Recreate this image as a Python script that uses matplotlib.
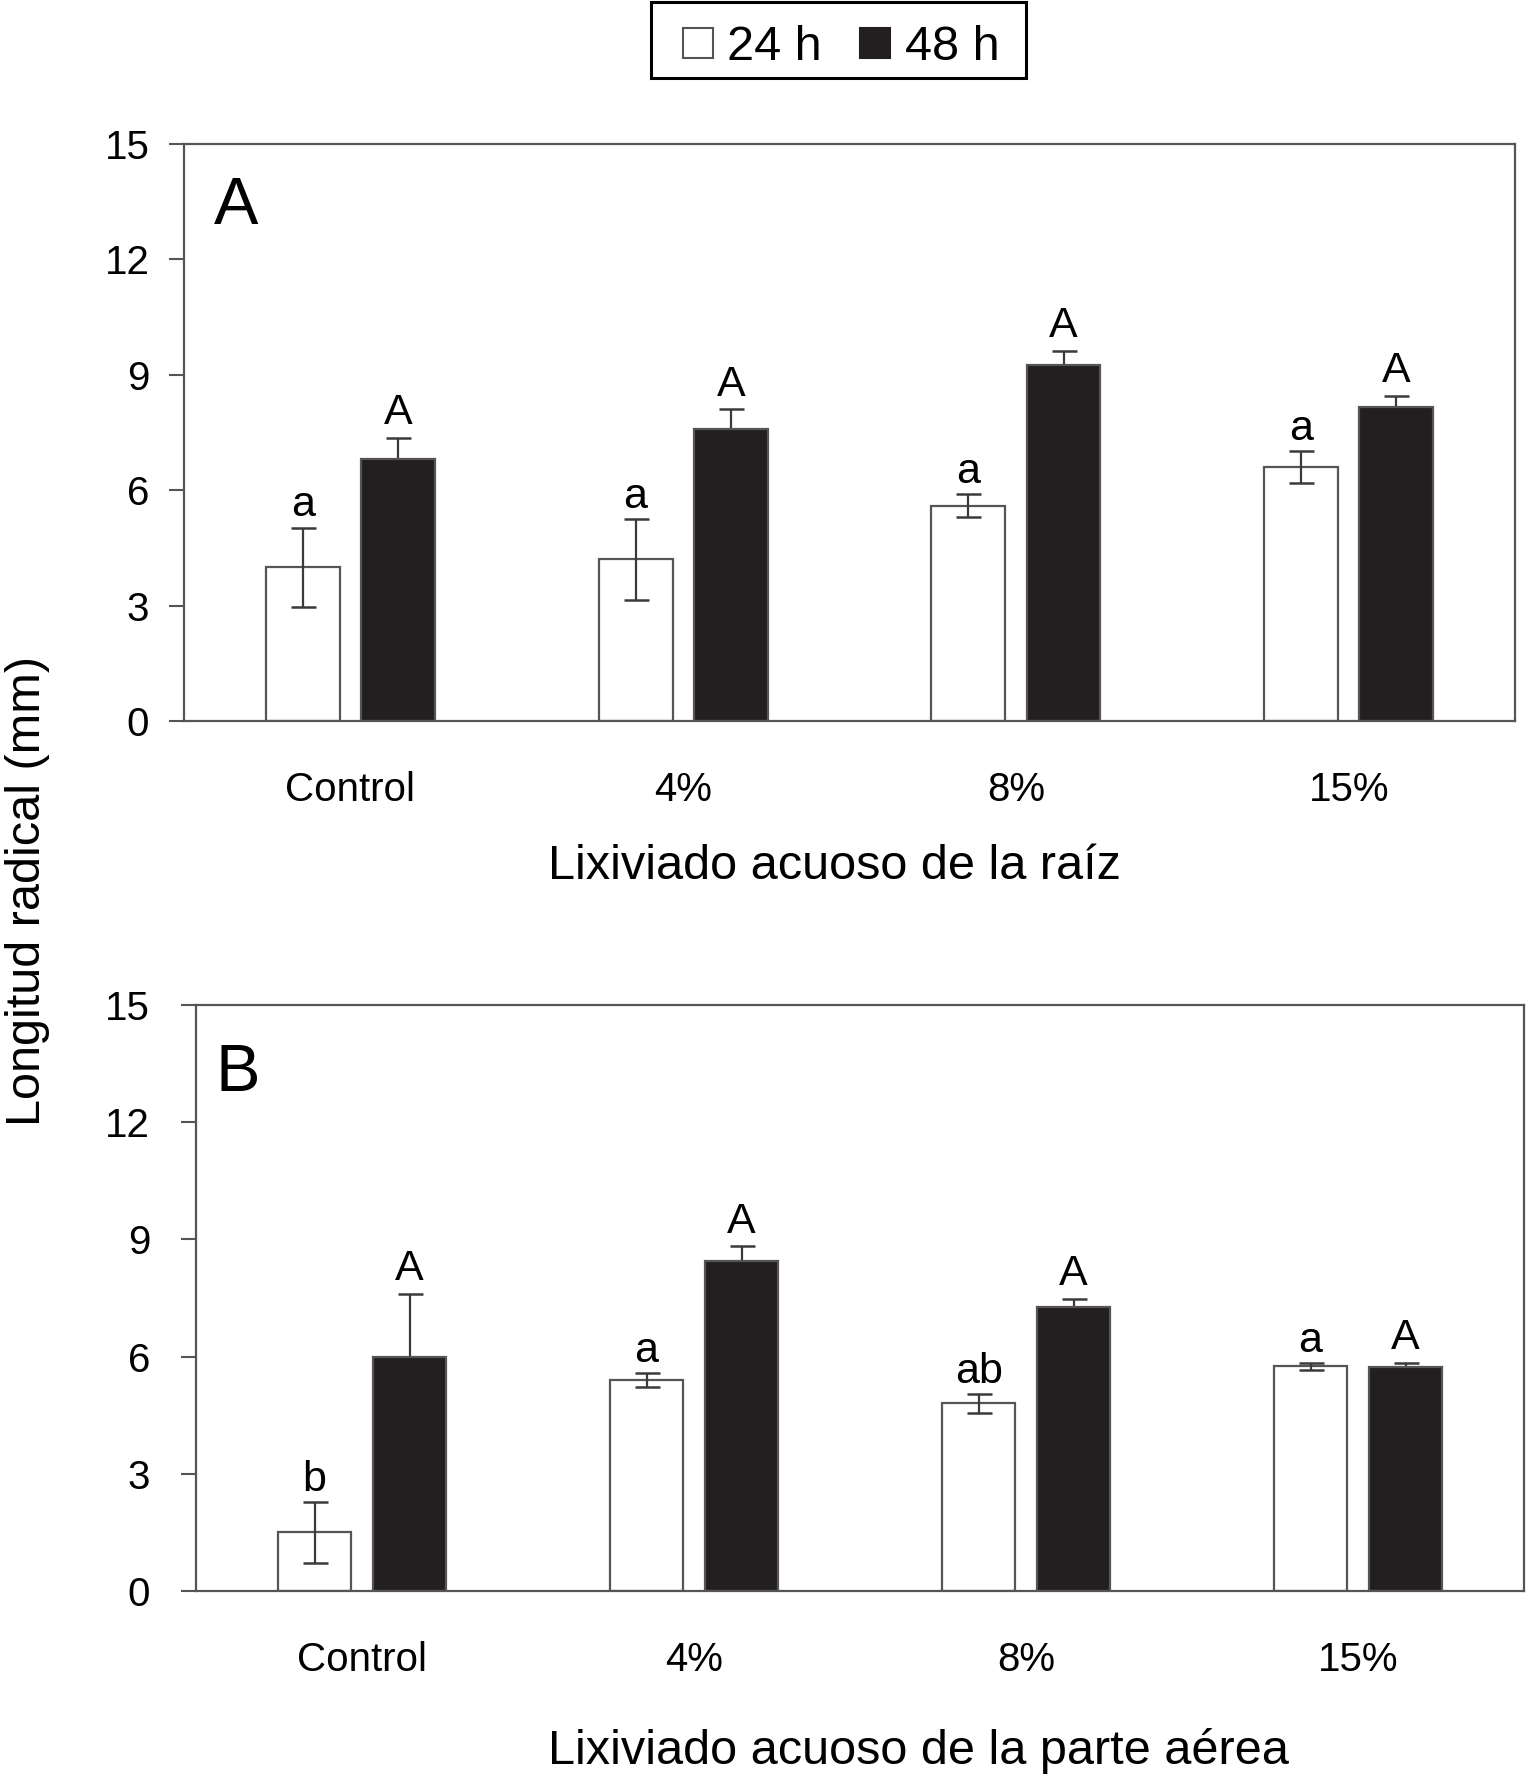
import numpy as np
import matplotlib
matplotlib.use("Agg")
import matplotlib.pyplot as plt
from matplotlib.lines import Line2D
from matplotlib.patches import Rectangle

plt.rcParams['font.family'] = ['Liberation Sans', 'DejaVu Sans']

# data
categories = ['Control', '4%', '8%', '15%']
series_names = ['24 h', '48 h']

# panel A - root leachate
a_24 = [4.0, 4.2, 5.6, 6.6]
a_24_err = [1.03, 1.05, 0.3, 0.42]
a_48 = [6.8, 7.6, 9.25, 8.15]
a_48_err = [0.55, 0.5, 0.37, 0.3]
a_24_letters = ['a', 'a', 'a', 'a']
a_48_letters = ['A', 'A', 'A', 'A']

# panel B - aerial part leachate
b_24 = [1.5, 5.4, 4.8, 5.75]
b_24_err = [0.78, 0.18, 0.25, 0.09]
b_48 = [6.0, 8.45, 7.28, 5.72]
b_48_err = [1.6, 0.37, 0.2, 0.11]
b_24_letters = ['b', 'a', 'ab', 'a']
b_48_letters = ['A', 'A', 'A', 'A']

yticks = [0, 3, 6, 9, 12, 15]

grey = '#555555'
black = '#231f20'

fig = plt.figure(figsize=(15.27, 17.75), dpi=100)
axA = fig.add_axes([0.1205, 0.5938, 0.8717, 0.3251])
axB = fig.add_axes([0.1284, 0.1037, 0.8697, 0.3301])


def draw_panel(ax, v24, e24, v48, e48, l24, l48, xlabel, letter, ypad, xlab_pos, letter_pos):
    x = np.arange(len(categories))
    w = 0.222
    off = 0.143
    ax.bar(x - off, v24, w, color='white', edgecolor=grey, linewidth=1.6, zorder=2)
    ax.bar(x + off, v48, w, color=black, edgecolor=grey, linewidth=1.6, zorder=2)
    ax.errorbar(x - off, v24, yerr=e24, fmt='none', ecolor='#3a3a3a',
                elinewidth=1.6, capsize=9, capthick=1.8, zorder=3)
    ax.errorbar(x + off, v48, yerr=e48, fmt='none', ecolor='#3a3a3a',
                elinewidth=1.6, capsize=9, capthick=1.8, zorder=1)
    for i in range(len(categories)):
        ax.annotate(l24[i], (x[i] - off, v24[i] + e24[i]), xytext=(0, 8),
                    textcoords='offset points', ha='center', va='baseline',
                    fontsize=31, zorder=4)
        ax.annotate(l48[i], (x[i] + off, v48[i] + e48[i]), xytext=(0, 10),
                    textcoords='offset points', ha='center', va='baseline',
                    fontsize=31, zorder=4)

    ax.set_xlim(-0.5, len(categories) - 0.5)
    ax.set_ylim(0, 15)
    ax.set_yticks(yticks)
    ax.set_xticks(x)
    ax.set_xticklabels(categories)
    ax.tick_params(axis='y', length=11, width=1.5, color=grey, pad=ypad, labelsize=29)
    ax.tick_params(axis='x', length=0, pad=36, labelsize=29)
    for s in ax.spines.values():
        s.set_color(grey)
        s.set_linewidth(1.6)

    ax.set_xlabel(xlabel, fontsize=35)
    ax.xaxis.set_label_coords(*xlab_pos)
    ax.xaxis.label.set_verticalalignment('center')
    ax.text(letter_pos[0], letter_pos[1], letter, transform=ax.transAxes,
            fontsize=48, ha='left', va='baseline')


draw_panel(axA, a_24, a_24_err, a_48, a_48_err, a_24_letters, a_48_letters,
           'Lixiviado acuoso de la raíz', 'A', 14, (0.489, -0.252), (0.0225, 0.861))
draw_panel(axB, b_24, b_24_err, b_48, b_48_err, b_24_letters, b_48_letters,
           'Lixiviado acuoso de la parte aérea', 'B', 22, (0.544, -0.274), (0.0143, 0.853))

fig.text(0.0183, 0.498, 'Longitud radical (mm)', rotation=90, fontsize=35,
         ha='center', va='center')

handles = [
    Line2D([], [], marker='s', ls='none', markersize=22, markerfacecolor='white',
           markeredgecolor=grey, markeredgewidth=1.5),
    Line2D([], [], marker='s', ls='none', markersize=22, markerfacecolor=black,
           markeredgecolor=black, markeredgewidth=1.5),
]
fig.legend(handles, series_names, loc='center', bbox_to_anchor=(0.551, 0.9735),
           ncol=2, fontsize=35, frameon=False, handlelength=0.6, handletextpad=0.3,
           columnspacing=0.8, borderpad=0.35)
# legend frame box
fig.patches.append(Rectangle((0.4263, 0.956), 0.2456, 0.0427, transform=fig.transFigure,
                             fill=False, edgecolor='black', linewidth=2.2))

fig.savefig('out.png', dpi=100)
